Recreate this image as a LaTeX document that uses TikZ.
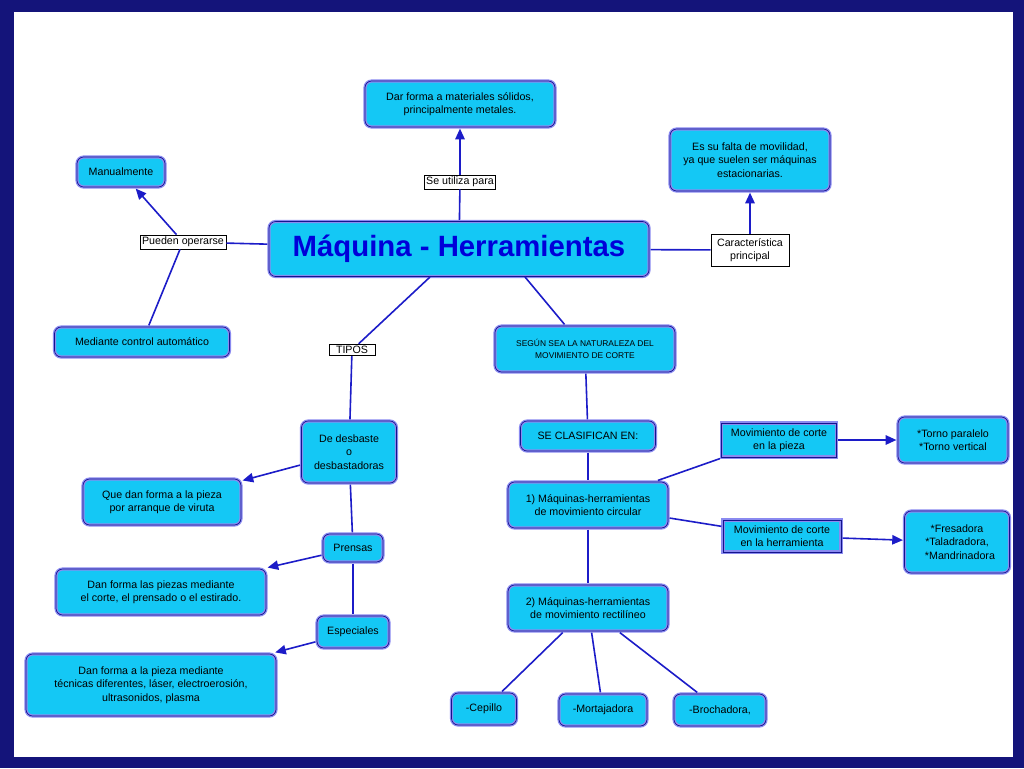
\documentclass[tikz,border=0pt]{standalone}
\usepackage{fontspec}
\setmainfont{Liberation Sans}
\usetikzlibrary{arrows.meta}
\definecolor{cy}{HTML}{14C8F5}
\definecolor{lav}{HTML}{8A8AF0}
\definecolor{ln}{HTML}{1C1CC8}
\definecolor{bgd}{HTML}{14147A}
\begin{document}
\begin{tikzpicture}[x=0.75pt,y=-0.75pt,
 W/.style={minimum width=#1*0.75pt},
 H/.style={minimum height=#1*0.75pt},
 bx/.style={fill=cy,draw=lav,line width=2.4pt,rounded corners=5pt,align=center,font=\fontsize{8}{10}\selectfont,inner sep=2pt,postaction={draw=ln!70!black,line width=0.5pt}},
 sq/.style={bx,rounded corners=0pt},
 lb/.style={fill=white,draw=black,line width=0.6pt,align=center,font=\fontsize{8}{9.5}\selectfont,inner sep=1.5pt},
 ed/.style={draw=ln,line width=1.2pt},
 ar/.style={ed,-{Triangle[length=8pt,width=7pt]}}]
\useasboundingbox (0,0) rectangle (1024,768);
\fill[bgd] (0,0) rectangle (1024,768);
\fill[white] (14,12) rectangle (1013,757);
\node[bx,W=380,H=55,font=\fontsize{22}{24}\selectfont\bfseries,text=blue!85!black] (t) at (459,249) {Máquina - Herramientas};
\node[bx,W=190,H=46] (dar) at (460,104) {Dar forma a materiales sólidos,\\principalmente metales.};
\node[lb] (se) at (460,182) {Se utiliza para};
\node[bx,W=160,H=62] (es) at (750,160) {Es su falta de movilidad,\\ya que suelen ser máquinas\\estacionarias.};
\node[lb,W=78,H=32] (ca) at (750,250) {Característica\\principal};
\node[bx,W=88,H=30] (man) at (121,172) {Manualmente};
\node[lb] (pu) at (183,242) {Pueden operarse};
\node[bx,W=175,H=30] (med) at (142,342) {Mediante control automático};
\node[lb,W=46] (ti) at (352,350) {TIPOS};
\node[bx,W=180,H=46,font=\fontsize{6.3}{8.5}\selectfont] (seg) at (585,349) {SEGÚN SEA LA NATURALEZA DEL\\MOVIMIENTO DE CORTE};
\node[bx,W=95,H=62] (de) at (349,452) {De desbaste\\o\\desbastadoras};
\node[bx,W=158,H=46] (qd) at (162,502) {Que dan forma a la pieza\\por arranque de viruta};
\node[bx,W=60,H=28] (pr) at (353,548) {Prensas};
\node[bx,W=210,H=46] (df) at (161,592) {Dan forma las piezas mediante\\el corte, el prensado o el estirado.};
\node[bx,W=72,H=32] (esp) at (353,632) {Especiales};
\node[bx,W=250,H=62] (df2) at (151,685) {Dan forma a la pieza mediante\\técnicas diferentes, láser, electroerosión,\\ultrasonidos, plasma};
\node[bx,W=135,H=30] (sc) at (588,436) {SE CLASIFICAN EN:};
\node[bx,W=160,H=46] (m1) at (588,505) {1) Máquinas-herramientas\\de movimiento circular};
\node[bx,W=160,H=46] (m2) at (588,608) {2) Máquinas-herramientas\\de movimiento rectilíneo};
\node[sq,W=115,H=34] (mp) at (779,440) {Movimiento de corte\\en la pieza};
\node[bx,W=110,H=46] (to) at (953,440) {*Torno paralelo\\*Torno vertical};
\node[sq,W=118,H=32] (mh) at (782,536) {Movimiento de corte\\en la herramienta};
\node[bx,W=105,H=62] (fr) at (957,542) {*Fresadora\\*Taladradora,\\\ \ *Mandrinadora};
\node[bx,W=65,H=32] (ce) at (484,709) {-Cepillo};
\node[bx,W=88,H=32] (mo) at (603,710) {-Mortajadora};
\node[bx,W=92,H=32] (br) at (720,710) {-Brochadora,};
\coordinate (tl) at (430,277);
\coordinate (tr) at (525,277);
\draw[ed] (t) -- (se); \draw[ar] (se) -- (dar);
\draw[ed] (t) -- (ca); \draw[ar] (ca) -- (es);
\draw[ed] (t) -- (pu); \draw[ar] (pu) -- (man); \draw[ed] (pu) -- (med);
\draw[ed] (tl) -- (ti);
\draw[ed] (ti) -- (de); \draw[ar] (de) -- (qd);
\draw[ed] (de) -- (pr); \draw[ar] (pr) -- (df);
\draw[ed] (pr) -- (esp); \draw[ar] (esp) -- (df2);
\draw[ed] (tr) -- (seg);
\draw[ed] (seg) -- (sc); \draw[ed] (sc) -- (m1); \draw[ed] (m1) -- (m2);
\draw[ed] (m1) -- (mp.south west); \draw[ar] (mp) -- (to);
\draw[ed] (m1) -- (mh); \draw[ar] (mh) -- (fr);
\draw[ed] (m2) -- (ce); \draw[ed] (m2) -- (mo); \draw[ed] (m2) -- (br);
\end{tikzpicture}
\end{document}
